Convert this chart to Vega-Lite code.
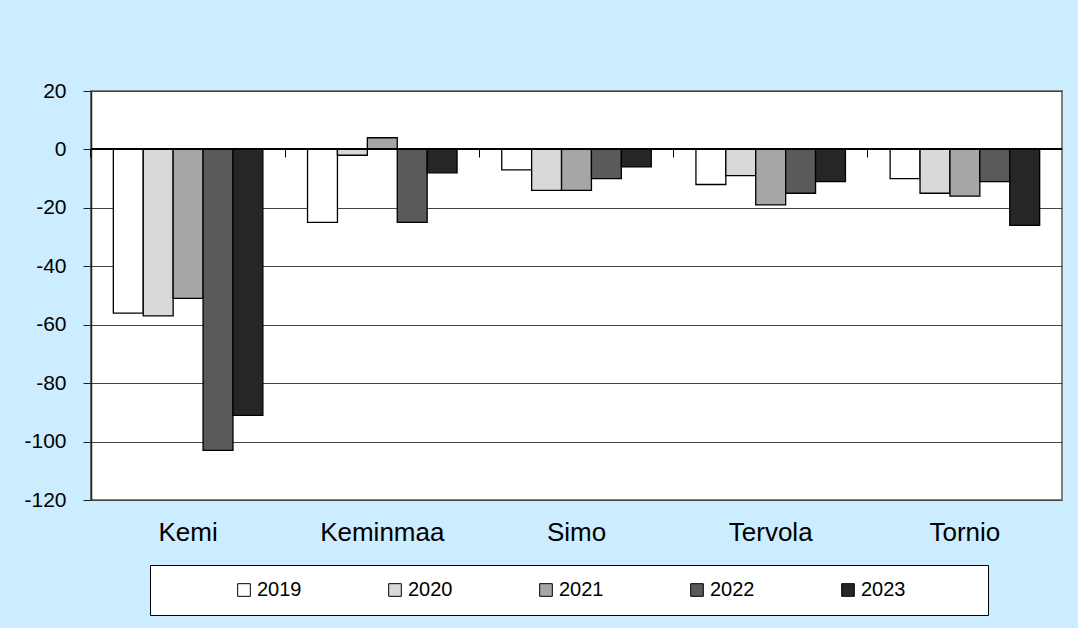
{
  "$schema": "https://vega.github.io/schema/vega-lite/v6.json",
  "width": 971,
  "height": 409,
  "autosize": {"type": "none"},
  "padding": {"left": 91, "top": 91, "right": 16, "bottom": 128},
  "background": "#CCECFF",
  "config": {
    "font": "Liberation Sans",
    "view": {"fill": "white", "stroke": "#808080", "strokeWidth": 2}
  },
  "data": {
    "values": [
      {"Kunta": "Kemi", "Vuosi": "2019", "Arvo": -56},
      {"Kunta": "Kemi", "Vuosi": "2020", "Arvo": -57},
      {"Kunta": "Kemi", "Vuosi": "2021", "Arvo": -51},
      {"Kunta": "Kemi", "Vuosi": "2022", "Arvo": -103},
      {"Kunta": "Kemi", "Vuosi": "2023", "Arvo": -91},
      {"Kunta": "Keminmaa", "Vuosi": "2019", "Arvo": -25},
      {"Kunta": "Keminmaa", "Vuosi": "2020", "Arvo": -2},
      {"Kunta": "Keminmaa", "Vuosi": "2021", "Arvo": 4},
      {"Kunta": "Keminmaa", "Vuosi": "2022", "Arvo": -25},
      {"Kunta": "Keminmaa", "Vuosi": "2023", "Arvo": -8},
      {"Kunta": "Simo", "Vuosi": "2019", "Arvo": -7},
      {"Kunta": "Simo", "Vuosi": "2020", "Arvo": -14},
      {"Kunta": "Simo", "Vuosi": "2021", "Arvo": -14},
      {"Kunta": "Simo", "Vuosi": "2022", "Arvo": -10},
      {"Kunta": "Simo", "Vuosi": "2023", "Arvo": -6},
      {"Kunta": "Tervola", "Vuosi": "2019", "Arvo": -12},
      {"Kunta": "Tervola", "Vuosi": "2020", "Arvo": -9},
      {"Kunta": "Tervola", "Vuosi": "2021", "Arvo": -19},
      {"Kunta": "Tervola", "Vuosi": "2022", "Arvo": -15},
      {"Kunta": "Tervola", "Vuosi": "2023", "Arvo": -11},
      {"Kunta": "Tornio", "Vuosi": "2019", "Arvo": -10},
      {"Kunta": "Tornio", "Vuosi": "2020", "Arvo": -15},
      {"Kunta": "Tornio", "Vuosi": "2021", "Arvo": -16},
      {"Kunta": "Tornio", "Vuosi": "2022", "Arvo": -11},
      {"Kunta": "Tornio", "Vuosi": "2023", "Arvo": -26}
    ]
  },
  "resolve": {"axis": {"x": "independent"}},
  "layer": [
    {
      "mark": {"type": "bar", "stroke": "black", "strokeWidth": 1.3},
      "encoding": {
        "x": {
          "field": "Kunta", "type": "nominal", "sort": null,
          "scale": {"paddingInner": 0.23, "paddingOuter": 0.115},
          "axis": {
            "title": null, "orient": "bottom", "labelAngle": 0, "ticks": false, "domain": false,
            "labelFontSize": 26, "labelColor": "black", "labelPadding": 19, "labelFont": "Liberation Sans"
          }
        },
        "xOffset": {"field": "Vuosi", "type": "nominal", "scale": {"paddingInner": 0, "paddingOuter": 0}},
        "y": {
          "field": "Arvo", "type": "quantitative",
          "scale": {"domain": [-120, 20], "nice": false, "zero": false},
          "axis": {
            "title": null, "values": [-120, -100, -80, -60, -40, -20, 0, 20],
            "labelExpr": "toString(datum.value)",
            "labelFontSize": 21, "labelColor": "black", "labelFont": "Liberation Sans", "labelPadding": 17,
            "tickSize": 8, "tickColor": "#222", "domainColor": "#222", "domainWidth": 1.5,
            "gridColor": "#444", "gridWidth": 1
          }
        },
        "fill": {
          "field": "Vuosi", "type": "nominal",
          "scale": {"domain": ["2019", "2020", "2021", "2022", "2023"], "range": ["#FFFFFF", "#D9D9D9", "#A6A6A6", "#5A5A5A", "#262626"]},
          "legend": {
            "title": " ", "titleOrient": "right", "titlePadding": 68, "titleFontSize": 11,
            "orient": "none", "direction": "horizontal", "columns": 5,
            "legendX": 59, "legendY": 474, "padding": 15,
            "fillColor": "white", "strokeColor": "black",
            "symbolType": "square", "symbolSize": 160, "symbolStrokeColor": "black", "symbolStrokeWidth": 1,
            "symbolOffset": 69,
            "labelFontSize": 20, "labelColor": "black", "labelFont": "Liberation Sans", "labelOffset": 3,
            "columnPadding": 14
          }
        }
      }
    },
    {
      "mark": {"type": "rule", "color": "black", "strokeWidth": 1.3},
      "encoding": {"y": {"datum": 0, "type": "quantitative"}}
    },
    {
      "mark": {"type": "bar", "opacity": 0},
      "encoding": {
        "x": {
          "field": "Kunta", "type": "nominal", "sort": null,
          "axis": {
            "title": null, "orient": "top", "offset": -58, "labels": false, "domain": false,
            "ticks": true, "tickSize": -8, "tickColor": "black", "bandPosition": -0.15
          }
        },
        "y": {"field": "Arvo", "type": "quantitative", "title": null}
      }
    }
  ]
}
